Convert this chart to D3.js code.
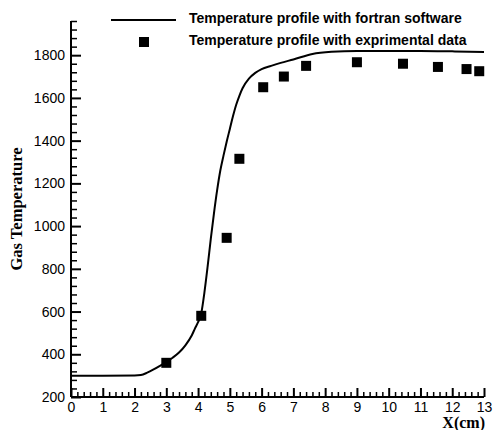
<!DOCTYPE html>
<html>
<head>
<meta charset="utf-8">
<script src="https://cdn.jsdelivr.net/npm/d3@7"></script>
<style>
  html, body { margin: 0; padding: 0; background: #fff; }
  svg { display: block; }
</style>
</head>
<body>
<svg id="chart" width="494" height="430"></svg>
<script>
// Simulated gas temperature profile (fortran code)
const simX = [0, 1, 2, 2.2, 2.4, 2.6, 2.8, 3.0, 3.2, 3.4, 3.6, 3.8, 3.9, 4.0, 4.1, 4.2, 4.3, 4.4, 4.5, 4.6, 4.7, 4.8, 4.9, 5.0, 5.1, 5.2, 5.3, 5.4, 5.6, 5.8, 6.0, 6.3, 6.6, 7.0, 7.6, 8.2, 9, 10, 11, 12, 13];
const simT = [300, 300, 301, 303, 314, 329, 346, 364, 384, 408, 442, 488, 520, 550, 592, 690, 810, 940, 1060, 1168, 1260, 1330, 1395, 1455, 1515, 1568, 1610, 1645, 1690, 1717, 1735, 1750, 1764, 1780, 1806, 1816, 1820, 1820, 1820, 1818, 1815];

// Measured gas temperatures
const expX = [3.0, 4.1, 4.9, 5.3, 6.05, 6.7, 7.4, 9.0, 10.45, 11.55, 12.45, 12.85];
const expT = [360, 580, 945, 1315, 1650, 1700, 1750, 1767, 1760, 1745, 1735, 1725];

// Axis ticks
const xMajor = [0, 1, 2, 3, 4, 5, 6, 7, 8, 9, 10, 11, 12, 13];
const yMajor = [200, 400, 600, 800, 1000, 1200, 1400, 1600, 1800];

const legendLabels = ["Temperature profile with fortran software", "Temperature profile with exprimental data"];

const svg = d3.select("#chart");
const x = d3.scaleLinear().domain([0, 13]).range([71, 484]);
const y = d3.scaleLinear().domain([200, 1960]).range([397, 21]);

const xMinor = d3.range(0, 13.0001, 0.2).map(v => +v.toFixed(1)).filter(v => !xMajor.includes(v));
const yMinor = d3.range(200, 1960.1, 40).filter(v => !yMajor.includes(v));

const tickFont = "Liberation Sans, Arial, sans-serif";
const serifFont = "Liberation Serif, Times New Roman, serif";

// X axis: ticks point up into the plot
const gx = svg.append("g").attr("transform", `translate(0,${y(200)})`);
gx.call(d3.axisBottom(x).tickValues(xMinor).tickSize(-5).tickSizeOuter(0).tickFormat(""));
gx.selectAll(".tick line").attr("stroke-width", 1.5);
const gx2 = svg.append("g").attr("transform", `translate(0,${y(200)})`);
gx2.call(d3.axisBottom(x).tickValues(xMajor).tickSize(-9).tickSizeOuter(0).tickPadding(5).tickFormat(d3.format("d")));
gx2.selectAll(".tick line").attr("stroke-width", 2);
gx2.selectAll(".tick text").attr("font-size", 14).attr("font-family", tickFont).attr("fill", "#000").attr("dy", "0.72em");

// Y axis: ticks point right into the plot
const gy = svg.append("g").attr("transform", `translate(${x(0)},0)`);
gy.call(d3.axisLeft(y).tickValues(yMinor).tickSize(-6).tickSizeOuter(0).tickFormat(""));
gy.selectAll(".tick line").attr("stroke-width", 1.5);
const gy2 = svg.append("g").attr("transform", `translate(${x(0)},0)`);
gy2.call(d3.axisLeft(y).tickValues(yMajor).tickSize(-10).tickSizeOuter(0).tickPadding(6).tickFormat(d3.format("d")));
gy2.selectAll(".tick line").attr("stroke-width", 2);
gy2.selectAll(".tick text").attr("font-size", 14).attr("font-family", tickFont).attr("fill", "#000");
svg.selectAll(".domain").remove();

// Axis lines
svg.append("line").attr("x1", x(0)).attr("x2", x(13)).attr("y1", y(200)).attr("y2", y(200))
  .attr("stroke", "#000").attr("stroke-width", 2);
svg.append("line").attr("x1", x(0)).attr("x2", x(0)).attr("y1", y(200)).attr("y2", y(1960))
  .attr("stroke", "#000").attr("stroke-width", 2);

// Axis titles
svg.append("text")
  .attr("transform", `translate(21.5,${(y(200) + y(1960)) / 2}) rotate(-90)`)
  .attr("text-anchor", "middle")
  .attr("font-family", serifFont)
  .attr("font-weight", "bold").attr("font-size", 16.5)
  .text("Gas Temperature");
svg.append("text")
  .attr("x", 485).attr("y", 428)
  .attr("text-anchor", "end")
  .attr("font-family", serifFont)
  .attr("font-weight", "bold").attr("font-size", 16)
  .text("X(cm)");

// Simulated curve
const line = d3.line().x(d => x(d[0])).y(d => y(d[1])).curve(d3.curveMonotoneX);
svg.append("path")
  .datum(simX.map((v, i) => [v, simT[i]]))
  .attr("d", line)
  .attr("fill", "none").attr("stroke", "#000").attr("stroke-width", 2);

// Experimental points
const sq = 10;
svg.append("g").selectAll("rect")
  .data(expX.map((v, i) => [v, expT[i]]))
  .join("rect")
  .attr("x", d => x(d[0]) - sq / 2).attr("y", d => y(d[1]) - sq / 2)
  .attr("width", sq).attr("height", sq).attr("fill", "#000");

// Legend
const lg = svg.append("g");
lg.append("line").attr("x1", 111).attr("x2", 176).attr("y1", 20).attr("y2", 20)
  .attr("stroke", "#000").attr("stroke-width", 2);
lg.append("rect").attr("x", 139).attr("y", 37).attr("width", 10).attr("height", 10).attr("fill", "#000");
lg.selectAll("text").data(legendLabels).join("text")
  .attr("x", 189).attr("y", (d, i) => 23 + i * 22)
  .attr("font-family", tickFont).attr("font-weight", "bold").attr("font-size", 14)
  .text(d => d);
</script>
</body>
</html>
